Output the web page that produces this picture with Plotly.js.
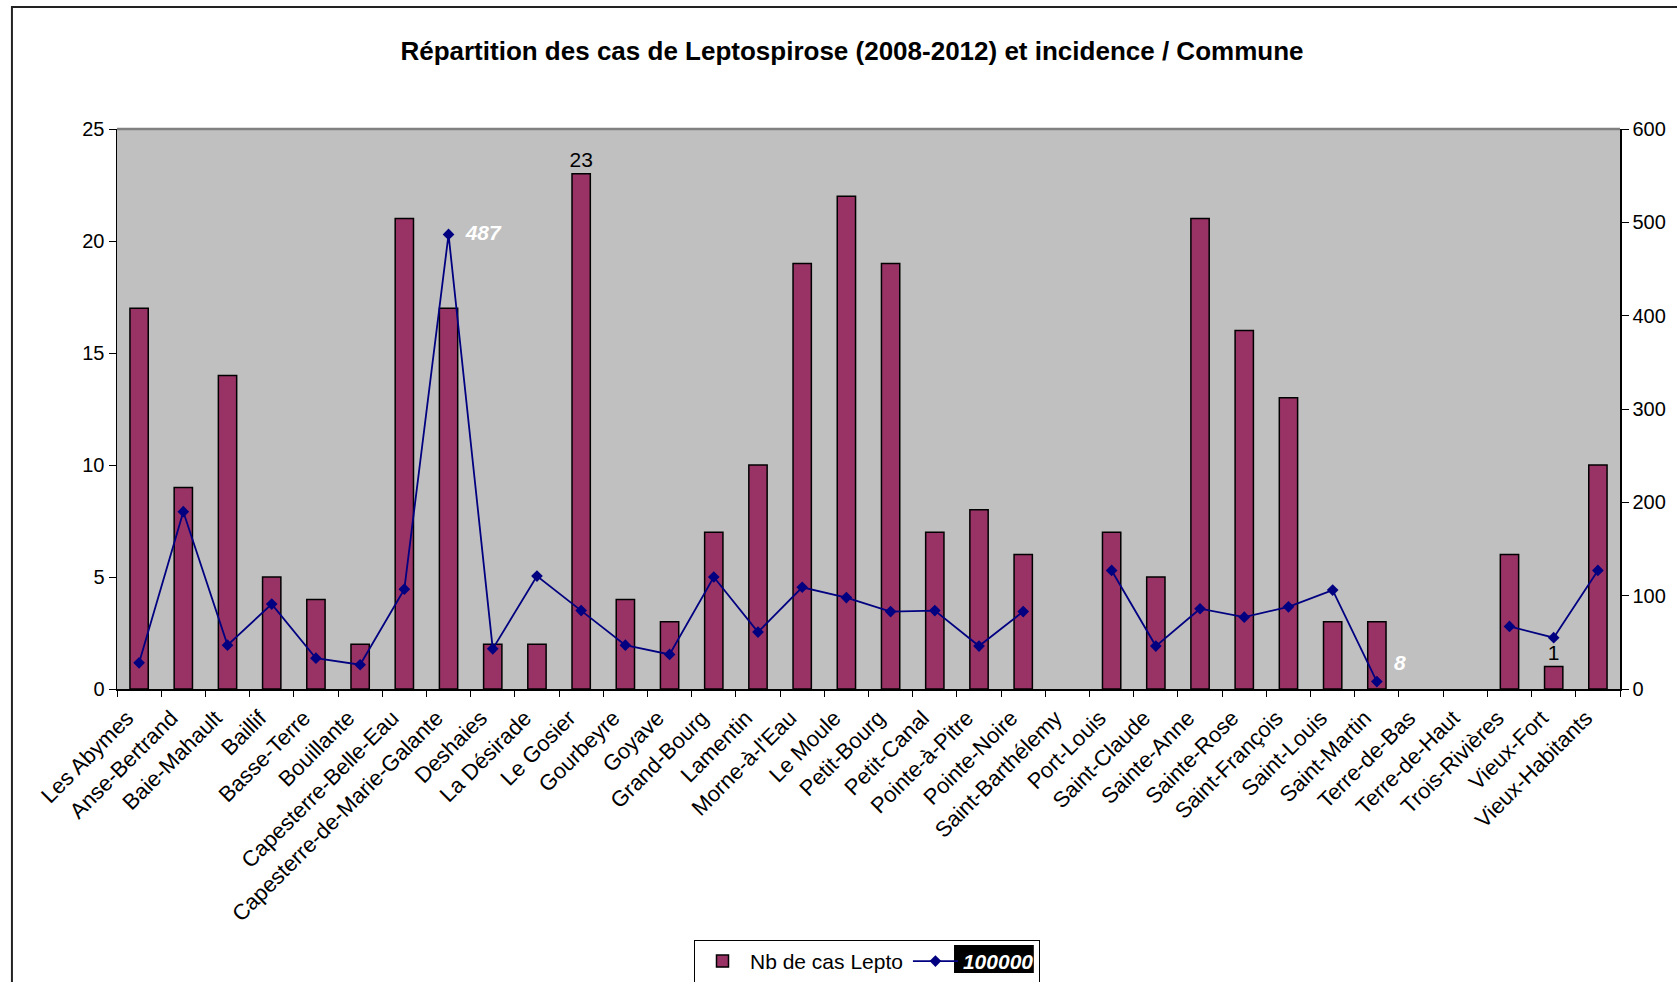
<!DOCTYPE html>
<html>
<head>
<meta charset="utf-8">
<script src="https://cdn.plot.ly/plotly-3.0.1.min.js"></script>
<style>html,body{margin:0;padding:0;background:#fff;}</style>
</head>
<body>
<div id="chart" style="width:1677px;height:982px;"></div>
<script>
const communes = ['Les Abymes','Anse-Bertrand','Baie-Mahault','Baillif','Basse-Terre','Bouillante',
  'Capesterre-Belle-Eau','Capesterre-de-Marie-Galante','Deshaies','La Désirade','Le Gosier','Gourbeyre',
  'Goyave','Grand-Bourg','Lamentin',"Morne-à-l'Eau",'Le Moule','Petit-Bourg','Petit-Canal','Pointe-à-Pitre',
  'Pointe-Noire','Saint-Barthélemy','Port-Louis','Saint-Claude','Sainte-Anne','Sainte-Rose','Saint-François',
  'Saint-Louis','Saint-Martin','Terre-de-Bas','Terre-de-Haut','Trois-Rivières','Vieux-Fort','Vieux-Habitants'];
const nbCas = [17,9,14,5,4,2,21,17,2,2,23,4,3,7,10,19,22,19,7,8,6,null,7,5,21,16,13,3,3,null,null,6,1,10];
const incidence = [28,190,47,91,33,26,107,487,43,121,84,47,37,120,61,109,98,83,84,46,83,null,127,46,86,77,88,106,8,null,null,67,55,127];
const barLabels = ['','','','','','','','','','','23','','','','','','','','','','','','','','','','','','','','','','1',''];
const lineLabels = ['','','','','','','','487','','','','','','','','','','','','','','','','','','','','','8','','','','',''];
const lineLabelPos = communes.map((c,i)=> i===28 ? 'top right' : 'middle right');

const FONT = '"Liberation Sans", Arial, sans-serif';

const traces = [
  {
    type:'bar', name:'Nb de cas Lepto', x:communes, y:nbCas,
    marker:{color:'#993366', line:{color:'#000000', width:1.5}},
    text:barLabels, textposition:'outside', cliponaxis:false, constraintext:'none',
    textfont:{family:FONT, size:21, color:'#000000'},
    hoverinfo:'x+y'
  },
  {
    type:'scatter', mode:'lines+markers+text', name:'<b><i><span style="color:#ffffff">100000</span></i></b>',
    x:communes, y:incidence, yaxis:'y2',
    line:{color:'#000080', width:1.8},
    marker:{symbol:'diamond', size:9, color:'#000080'},
    text:lineLabels, texttemplate:'\u2002%{text}', textposition:lineLabelPos, cliponaxis:false,
    textfont:{family:FONT, size:21, color:'#ffffff', weight:'bold', style:'italic'},
    connectgaps:false
  }
];

const layout = {
  width:1677, height:982,
  margin:{l:117, r:57, t:129, b:293, pad:0, autoexpand:false},
  paper_bgcolor:'#ffffff', plot_bgcolor:'#c0c0c0',
  font:{family:FONT, size:20, color:'#000000'},
  title:{text:'<b>Répartition des cas de Leptospirose (2008-2012) et incidence / Commune</b>',
    font:{family:FONT, size:26, color:'#000000'}, xref:'paper', x:0.489, xanchor:'center',
    yref:'container', y:0.948, yanchor:'middle'},
  bargap:0.586,
  showlegend:true,
  legend:{orientation:'h', xref:'paper', x:0.499, xanchor:'center', yref:'container', y:0.0428, yanchor:'top',
    bordercolor:'#000000', borderwidth:1, bgcolor:'rgba(0,0,0,0)', itemwidth:45,
    font:{family:FONT, size:21, color:'#000000'}, traceorder:'normal'},
  xaxis:{type:'category', tickangle:-45, ticks:'outside', tickson:'boundaries', ticklen:6,
    tickcolor:'#000000', showline:true, linecolor:'#000000', linewidth:1.5, showgrid:false,
    ticklabelshift:-12, ticklabelstandoff:6,
    tickfont:{family:FONT, size:22, color:'#000000'}, range:[-0.5,33.5], fixedrange:true, automargin:false},
  yaxis:{range:[0,25], dtick:5, ticks:'outside', ticklen:7, tickcolor:'#000000',
    showline:true, linecolor:'#000000', linewidth:1.5, showgrid:false, zeroline:false,
    tickfont:{family:FONT, size:20, color:'#000000'}, automargin:false},
  yaxis2:{overlaying:'y', side:'right', range:[0,600], dtick:100, ticks:'outside', ticklen:7,
    tickcolor:'#000000', showline:true, linecolor:'#000000', linewidth:1.5, showgrid:false, zeroline:false,
    tickfont:{family:FONT, size:20, color:'#000000'}, automargin:false},
  shapes:[
    {type:'rect', xref:'paper', yref:'paper', x0:-0.0699, x1:1.06, y0:-0.62, y1:1.2179,
      line:{color:'#222222', width:2}, fillcolor:'rgba(0,0,0,0)', layer:'below'},
    {type:'line', xref:'paper', yref:'paper', x0:0, x1:1, y0:1, y1:1,
      line:{color:'#808080', width:2.5}, layer:'above'},
    {type:'rect', xref:'paper', yref:'paper', x0:0.5569, x1:0.610, y0:-0.5071, y1:-0.4571,
      line:{width:0}, fillcolor:'#000000', layer:'above'}
  ]
};

Plotly.newPlot('chart', traces, layout, {displayModeBar:false, staticPlot:true});
</script>
</body>
</html>
